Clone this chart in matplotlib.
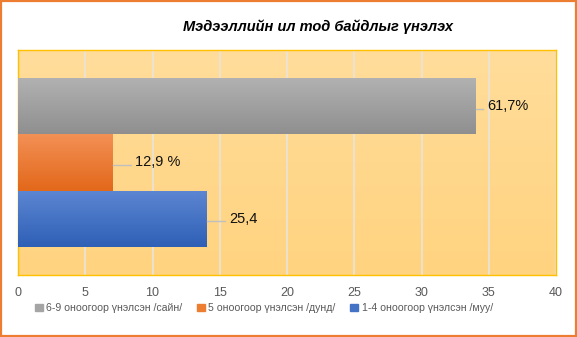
import numpy as np
import matplotlib.pyplot as plt
from matplotlib.colors import LinearSegmentedColormap

plt.rcParams['font.family'] = ['Liberation Sans', 'DejaVu Sans']

title = "Мэдээллийн ил тод байдлыг үнэлэх"
series = ["6-9 оноогоор үнэлсэн /сайн/", "5 оноогоор үнэлсэн /дунд/", "1-4 оноогоор үнэлсэн /муу/"]
values = [34, 7, 14]
labels = ["61,7%", "12,9 %", "25,4"]
label_gap = [0.9, 1.7, 1.7]
colors_top = ["#B2B2B2", "#F39055", "#5D86D2"]
colors_bot = ["#8F8F8F", "#E2681A", "#2E60B6"]
colors_leg = ["#A5A5A5", "#ED7D31", "#4472C4"]

fig = plt.figure(figsize=(5.77, 3.37), dpi=100)
fig.patch.set_facecolor("white")
# orange outer frame
fig.add_artist(plt.Rectangle((0.002, 0.003), 0.996, 0.994, transform=fig.transFigure,
                             fill=False, edgecolor="#ED7D31", linewidth=1.6))

ax = fig.add_axes([18 / 577, 1 - 275 / 337, 538 / 577, 225 / 337])

# plot area gradient
grad = np.linspace(0, 1, 256).reshape(-1, 1)
bg = LinearSegmentedColormap.from_list("bg", ["#FFDD9B", "#FFD37F"])
ax.imshow(grad, cmap=bg, aspect="auto", extent=(0, 1, 0, 1), transform=ax.transAxes, zorder=0)

h = 0.249
ypos = [h, 0, -h]
for i, (v, y) in enumerate(zip(values, ypos)):
    bar = ax.barh(y, v, height=h, color=colors_leg[i], edgecolor="none", zorder=2, label=series[i])[0]
    cm = LinearSegmentedColormap.from_list("g%d" % i, [colors_top[i], colors_bot[i]])
    im = ax.imshow(grad, cmap=cm, aspect="auto", extent=(0, v, y - h / 2, y + h / 2), zorder=3)
    im.set_clip_path(bar)
    # leader line + label
    ax.plot([v + 0.05, v + label_gap[i] - 0.3], [y - 0.01, y - 0.01], color="#BFBFBF", lw=1, zorder=3)
    ax.text(v + label_gap[i], y, labels[i], fontsize=10.5, va="center", ha="left", color="#111111", zorder=4)

ax.set_xlim(0, 40)
ax.set_ylim(-0.5, 0.5)
ax.set_xticks(range(0, 41, 5))
ax.set_yticks([])
ax.grid(axis="x", color="#E9E4DA", lw=1.2, zorder=1)
ax.set_axisbelow(True)
for s in ax.spines.values():
    s.set_color("#FFC000")
    s.set_linewidth(1)
ax.tick_params(axis="x", length=0, pad=9, labelsize=9, labelcolor="#595959")

fig.text(318 / 577, 1 - 27 / 337, title, fontsize=10.5, fontweight="bold", fontstyle="italic",
         ha="center", va="center", color="black")

handles = [plt.Rectangle((0, 0), 1, 1, color=c) for c in colors_leg]
fig.legend(handles, series, loc="center", bbox_to_anchor=(264 / 577, 1 - 308 / 337), ncol=3,
           frameon=False, labelcolor="#595959", handlelength=0.7, handleheight=0.7,
           handletextpad=0.35, columnspacing=1.4, fontsize=7.6)

fig.savefig("out.png", dpi=100)
